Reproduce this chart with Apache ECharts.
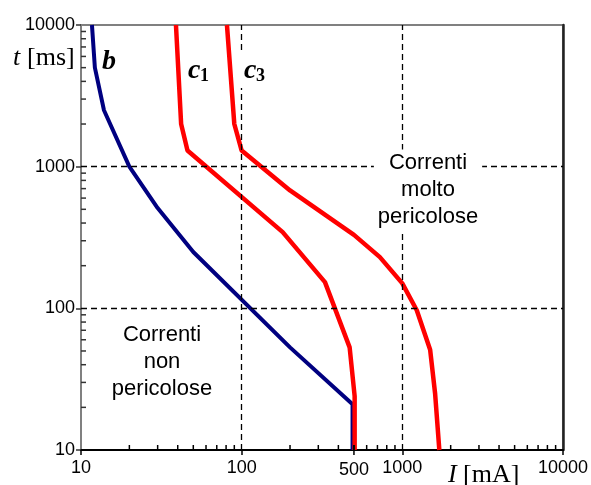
<!DOCTYPE html>
<html lang="it">

<head>
    <meta charset="UTF-8">
    <title>Curve di sicurezza</title>
    <style>
        body { margin: 0; background: #fff; }
        #main { width: 591px; height: 485px; }
    </style>
</head>

<body>
    <div id="main"></div>
    <script src="https://cdn.jsdelivr.net/npm/echarts@6/dist/echarts.min.js"></script>
    <script>
        // curve [I mA, t ms]
        var curveB = [[11.7, 10000], [12.2, 5000], [13.9, 2500], [20, 1000], [30, 510], [50, 250], [200, 53], [490, 21], [490, 10]];
        var curveC1 = [[39, 10000], [42, 2000], [46, 1300], [180, 345], [330, 153], [470, 53], [505, 24], [505, 10]];
        var curveC3 = [[81, 10000], [90, 2000], [100, 1300], [200, 680], [500, 330], [725, 230], [1000, 150], [1230, 97], [1490, 51], [1600, 25], [1700, 10]];

        var gridX = [100, 1000];
        var gridY = [100, 1000];
        var minorX = [20, 30, 40, 50, 60, 70, 80, 90, 200, 300, 400, 500, 600, 700, 800, 900, 2000, 3000, 4000, 5000, 6000, 7000, 8000, 9000];
        var minorY = [20, 30, 40, 50, 60, 70, 80, 90, 200, 300, 400, 500, 600, 700, 800, 900, 2000, 3000, 4000, 5000, 6000, 7000, 8000, 9000];
        var extraTick = 500;

        var sans = 'Liberation Sans, Arial, sans-serif';
        var serif = 'Liberation Serif, Times New Roman, serif';

        var myChart = echarts.init(document.getElementById('main'));

        var markData = [];
        gridX.forEach(function (v) { markData.push({ xAxis: v }); });
        gridY.forEach(function (v) { markData.push({ yAxis: v }); });

        function plain(v) { return String(Math.round(v)); }

        option = {
            animation: false,
            backgroundColor: '#fff',
            grid: {
                left: 81, right: 28, top: 25, bottom: 35,
                show: true,
                borderColor: '#808080',
                borderWidth: 2
            },
            xAxis: {
                type: 'log',
                logBase: 10,
                min: 10,
                max: 10000,
                axisLine: { lineStyle: { color: '#000', width: 2 } },
                axisTick: { show: true, inside: false, length: 5, lineStyle: { color: '#000', width: 1.5 } },
                axisLabel: { color: '#000', fontSize: 18, fontFamily: sans, margin: 9, showMinLabel: true, showMaxLabel: true, formatter: plain },
                splitLine: { show: false }
            },
            yAxis: [{
                type: 'log',
                logBase: 10,
                min: 10,
                max: 10000,
                axisLine: { lineStyle: { color: '#808080', width: 2 } },
                axisTick: { show: true, inside: false, length: 5, lineStyle: { color: '#333', width: 1.5 } },
                axisLabel: { color: '#000', fontSize: 18, fontFamily: sans, margin: 6, formatter: plain },
                splitLine: { show: false }
            }, {
                type: 'log',
                logBase: 10,
                min: 10,
                max: 10000,
                position: 'right',
                axisLine: { show: true, lineStyle: { color: '#222', width: 2.5 } },
                axisTick: { show: false },
                axisLabel: { show: false },
                splitLine: { show: false }
            }],
            series: [{
                type: 'line',
                data: curveB,
                symbol: 'none',
                lineStyle: { color: '#000080', width: 4 },
                markLine: {
                    silent: true,
                    symbol: 'none',
                    label: { show: false },
                    lineStyle: { color: '#000', width: 1.3, type: [6, 4] },
                    data: markData
                },
                z: 3
            }, {
                type: 'line',
                data: curveC1,
                symbol: 'none',
                lineStyle: { color: '#ff0000', width: 4.5 },
                z: 4
            }, {
                type: 'line',
                data: curveC3,
                symbol: 'none',
                lineStyle: { color: '#ff0000', width: 4.5 },
                z: 4
            }, {
                // minor ticks x
                type: 'scatter',
                data: minorX.map(function (v) { return [v, 10]; }),
                symbol: 'rect',
                symbolSize: [1.5, 5],
                symbolOffset: [0, -2.5],
                itemStyle: { color: '#000', opacity: 1 },
                clip: false,
                silent: true,
                z: 5
            }, {
                // minor ticks y
                type: 'scatter',
                data: minorY.map(function (v) { return [10, v]; }),
                symbol: 'rect',
                symbolSize: [5, 1.5],
                symbolOffset: [2.5, 0],
                itemStyle: { color: '#333', opacity: 1 },
                clip: false,
                silent: true,
                z: 5
            }, {
                // tick 500
                type: 'scatter',
                data: [[extraTick, 10]],
                symbol: 'rect',
                symbolSize: [1.5, 10],
                itemStyle: { color: '#000', opacity: 1 },
                clip: false,
                silent: true,
                label: {
                    show: true,
                    position: 'bottom',
                    distance: 6,
                    formatter: String(extraTick),
                    color: '#000',
                    opacity: 1,
                    fontSize: 18,
                    fontFamily: sans
                },
                z: 5
            }],
            graphic: [
                { type: 'text', z: 100, style: { text: 't', x: 13, y: 58, font: 'italic 26px ' + serif, fill: '#000', textAlign: 'left', textVerticalAlign: 'middle' } },
                { type: 'text', z: 100, style: { text: '[ms]', x: 27, y: 58, font: '26px ' + serif, fill: '#000', textAlign: 'left', textVerticalAlign: 'middle' } },
                { type: 'text', z: 100, style: { text: 'I', x: 448, y: 475, font: 'italic 26px ' + serif, fill: '#000', textAlign: 'left', textVerticalAlign: 'middle' } },
                { type: 'text', z: 100, style: { text: '[mA]', x: 463, y: 475, font: '26px ' + serif, fill: '#000', textAlign: 'left', textVerticalAlign: 'middle' } },
                { type: 'text', z: 100, style: { text: 'b', x: 102, y: 62, font: 'italic bold 28px ' + serif, fill: '#000', textAlign: 'left', textVerticalAlign: 'middle' } },
                { type: 'text', z: 100, style: { text: 'c', x: 188, y: 71, font: 'italic bold 28px ' + serif, fill: '#000', textAlign: 'left', textVerticalAlign: 'middle' } },
                { type: 'text', z: 100, style: { text: '1', x: 200, y: 76, font: 'bold 18px ' + serif, fill: '#000', textAlign: 'left', textVerticalAlign: 'middle' } },
                { type: 'rect', z: 99, shape: { x: 240, y: 50, width: 26, height: 38 }, style: { fill: '#fff' } },
                { type: 'text', z: 100, style: { text: 'c', x: 244, y: 71, font: 'italic bold 28px ' + serif, fill: '#000', textAlign: 'left', textVerticalAlign: 'middle' } },
                { type: 'text', z: 100, style: { text: '3', x: 256, y: 76, font: 'bold 18px ' + serif, fill: '#000', textAlign: 'left', textVerticalAlign: 'middle' } },
                { type: 'text', z: 100, style: { text: 'Correnti\nmolto\npericolose', x: 428, y: 190, font: '22px ' + sans, lineHeight: 27, fill: '#000', textAlign: 'center', textVerticalAlign: 'middle', backgroundColor: '#fff', padding: [0, 4] } },
                { type: 'text', z: 100, style: { text: 'Correnti\nnon\npericolose', x: 162, y: 362, font: '22px ' + sans, lineHeight: 27, fill: '#000', textAlign: 'center', textVerticalAlign: 'middle' } }
            ]
        };
        myChart.setOption(option);
    </script>

</body>

</html>
